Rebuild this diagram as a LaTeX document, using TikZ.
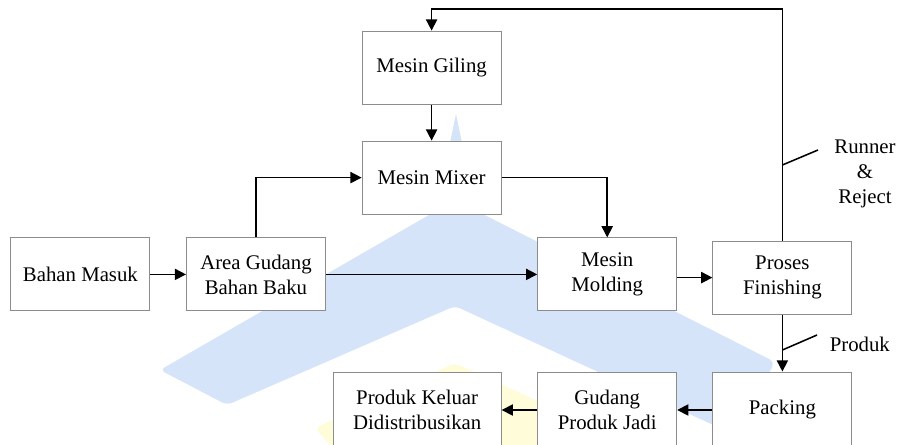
\documentclass[tikz,border=0pt]{standalone}
\usepackage{fontspec}
\setmainfont{Liberation Serif}
\usetikzlibrary{arrows.meta}

\definecolor{markblue}{HTML}{D6E4F9}
\definecolor{markyellow}{HTML}{FFFCDA}

\begin{document}
\begin{tikzpicture}[>={Triangle[length=2.8mm,width=2.8mm]},line cap=butt,line join=miter,
    font=\fontsize{14.8}{17.8}\selectfont,
    box/.style={draw=black!45,fill=white,line width=0.7pt,minimum width=3.475cm,
      minimum height=1.825cm,align=center,inner sep=2pt},
    lowbox/.style={box,minimum height=1.9cm},
    flow/.style={->,line width=1.1pt}]

  \useasboundingbox (0,0) rectangle (22.425,11.1);

  % faint logo behind the chart
  \begin{scope}
    \clip (0,0) rectangle (22.425,11.1);
    \fill[markblue,rounded corners=4pt] (4.0,1.85) -- (11.375,6.1) -- (19.375,2.05)
      -- (18.375,0.225) -- (11.375,3.45) -- (5.675,0.975) -- cycle;
    \fill[markblue] (10.95,6.1) -- (11.4,8.25) -- (11.85,6.1) -- cycle;
    \fill[markyellow,rounded corners=4pt] (7.875,0.4) -- (11.375,2.025) -- (18.0,-1.025)
      -- (8.75,-0.6) -- cycle;
  \end{scope}

  % process boxes
  \node[box] (giling)    at (10.79,9.41) {Mesin Giling};
  \node[box] (mixer)     at (10.79,6.66) {Mesin Mixer};
  \node[box] (masuk)     at (2.01,4.24)  {Bahan Masuk};
  \node[box] (gudangbb)  at (6.40,4.24)  {Area Gudang\\Bahan Baku};
  \node[box] (molding)   at (15.18,4.24) {Mesin\\Molding};
  \node[box] (finishing) at (19.56,4.16) {Proses\\Finishing};
  \node[lowbox] (packing)  at (19.56,0.85) {Packing};
  \node[lowbox] (gudangpj) at (15.18,0.85) {Gudang\\Produk Jadi};
  \node[lowbox,minimum width=4.2cm] (keluar) at (10.43,0.85) {Produk Keluar\\Didistribusikan};

  % main flow
  \draw[flow] (masuk) -- (gudangbb);
  \draw[flow] (gudangbb) -- (molding);
  \draw[flow] (molding.east |- finishing) -- (finishing);
  \draw[flow] (gudangbb.north) |- (mixer.west);
  \draw[flow] (giling) -- (mixer);
  \draw[flow] (mixer.east) -| (molding.north);
  \draw[flow] (finishing) -- (packing);
  \draw[flow] (packing) -- (gudangpj);
  \draw[flow] (gudangpj) -- (keluar);

  % runner & reject back to the grinder
  \coordinate (back) at (10.79,10.875);
  \draw[flow] (finishing.north) |- (back) -- (giling.north);

  % label ticks
  \coordinate (runtick) at (19.56,6.975);
  \coordinate (prodtick) at (19.56,2.35);
  \draw[line width=1.1pt] (runtick) -- (20.45,7.35);
  \draw[line width=1.1pt] (prodtick) -- (20.425,2.725);
  \node[align=center] (runlabel) at (21.625,6.75) {Runner\\\&\\Reject};
  \node[anchor=west] (prodlabel) at (20.62,2.5) {Produk};
\end{tikzpicture}
\end{document}
